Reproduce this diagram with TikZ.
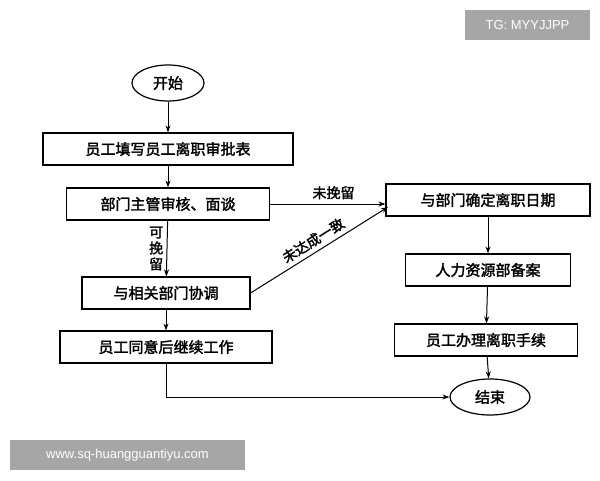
\documentclass[tikz,border=0pt]{standalone}
\usepackage{fontspec}
\newfontfamily\cjk{Noto Sans CJK SC}[FakeBold=2]
\setsansfont{Liberation Sans}
\usetikzlibrary{arrows.meta,shapes.geometric}
\begin{document}
\begin{tikzpicture}[x=1pt,y=-1pt,
  bx/.style={draw,line width=1.2pt,minimum height=32pt,inner sep=2pt,font=\cjk\fontsize{15}{15}\selectfont},
  ov/.style={draw,ellipse,line width=1.2pt,minimum height=36pt,font=\cjk\fontsize{15}{15}\selectfont},
  ar/.style={line width=1pt,-{Stealth[length=7pt,width=5pt]}},
  lb/.style={font=\cjk\fontsize{14}{14}\selectfont}]
\useasboundingbox (0,0) rectangle (600,480);
\node[ov,minimum width=72pt] (s) at (168,83) {开始};
\node[bx,minimum width=250pt] (b1) at (168,149) {员工填写员工离职审批表};
\node[bx,minimum width=203pt] (b2) at (168,204) {部门主管审核、面谈};
\node[bx,minimum width=168pt] (b3) at (166,293) {与相关部门协调};
\node[bx,minimum width=212pt] (b4) at (166,347) {员工同意后继续工作};
\node[bx,minimum width=204pt] (b5) at (488,200) {与部门确定离职日期};
\node[bx,minimum width=165pt] (b6) at (488,270) {人力资源部备案};
\node[bx,minimum width=183pt] (b7) at (486,340) {员工办理离职手续};
\node[ov,minimum width=80pt] (e) at (490,397) {结束};
\draw[ar] (s) -- (b1);
\draw[ar] (b1) -- (b2);
\draw[ar] (b2) -- (b3) node[lb,midway,left=0pt,align=center,font=\cjk\fontsize{14}{16}\selectfont] {可\\挽\\留};
\draw[ar] (b3) -- (b4);
\draw[ar] (b2.east) -- (b5.west |- b2.east) node[lb,pos=0.55,above=1pt] {未挽留};
\coordinate (d) at (388,207);
\draw[ar] (b3.east) -- (d) node[lb,midway,sloped,above=1pt] {未达成一致};
\draw[ar] (b5) -- (b6);
\draw[ar] (b6) -- (b7);
\draw[ar] (b7) -- (e);
\draw[ar] (b4.south) |- (e.west);
\fill[black!35] (465,10) rectangle (590,40);
\node[font=\sffamily\fontsize{13}{13}\selectfont,text=white] (w1) at (527.5,25) {TG: MYYJJPP};
\fill[black!35] (10,440) rectangle (245,470);
\node[font=\sffamily\fontsize{13}{13}\selectfont,text=white] (w2) at (127.5,455) {www.sq-huangguantiyu.com};
\end{tikzpicture}
\end{document}
